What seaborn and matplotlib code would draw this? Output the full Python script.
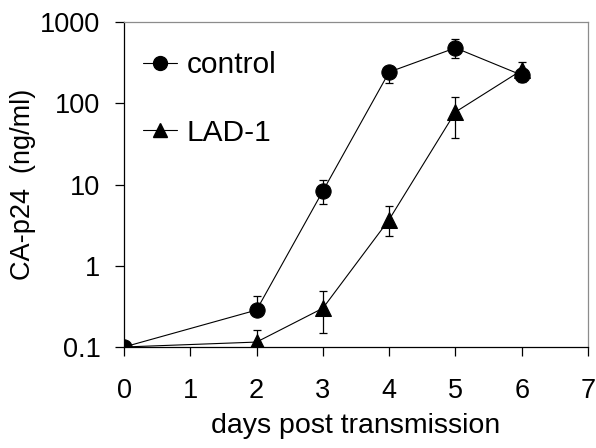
import matplotlib
matplotlib.use("Agg")
import matplotlib.pyplot as plt
import seaborn as sns
import pandas as pd
import numpy as np
from matplotlib.lines import Line2D

days = [0, 2, 3, 4, 5, 6]
control = [0.1, 0.285, 8.3, 242, 480, 222]
control_lo = [0.1, 0.285, 5.8, 178, 360, 185]
control_hi = [0.1, 0.42, 11.5, 290, 610, 265]
lad1 = [0.1, 0.115, 0.30, 3.7, 78, 255]
lad1_lo = [0.1, 0.1, 0.148, 2.35, 37, 215]
lad1_hi = [0.1, 0.162, 0.49, 5.4, 120, 320]
xticks = [0, 1, 2, 3, 4, 5, 6, 7]
yticks = [0.1, 1, 10, 100, 1000]
ytick_labels = ["0.1", "1", "10", "100", "1000"]

sns.set_style("ticks")
plt.rcParams['font.family'] = ['Liberation Sans', 'DejaVu Sans']
plt.rcParams['text.color'] = 'black'
plt.rcParams['axes.labelcolor'] = 'black'
plt.rcParams['xtick.color'] = 'black'
plt.rcParams['ytick.color'] = 'black'

df = pd.DataFrame({
    "day": days * 2,
    "val": control + lad1,
    "series": ["control"] * len(days) + ["LAD-1"] * len(days),
})

fig = plt.figure(figsize=(5.96, 4.48), dpi=100)
ax = fig.add_axes([124/596, 1 - 347/448, (588-124)/596, (347-22)/448])

sns.lineplot(data=df, x="day", y="val", hue="series", style="series",
             markers={"control": "o", "LAD-1": "^"}, dashes=False,
             palette={"control": "black", "LAD-1": "black"},
             markersize=11, linewidth=0.8, markeredgecolor="black", ax=ax,
             legend=False, zorder=3)

for y, lo, hi in [(control, control_lo, control_hi), (lad1, lad1_lo, lad1_hi)]:
    y = np.array(y); lo = np.array(lo); hi = np.array(hi)
    ax.errorbar(days, y, yerr=[y - lo, hi - y], fmt="none", ecolor="black",
                elinewidth=0.9, capsize=3, capthick=0.9, zorder=2)

ax.set_yscale("log")
ax.set_ylim(0.1, 1000)
ax.set_xlim(0, 7)
ax.set_yticks(yticks)
ax.set_yticklabels(ytick_labels)
ax.yaxis.set_minor_locator(matplotlib.ticker.NullLocator())
ax.set_xticks(xticks)
ax.tick_params(axis="both", labelsize=19.5, direction="out", length=6.5, width=0.9,
               color="black", labelcolor="black")
ax.tick_params(axis="x", pad=16)
ax.tick_params(axis="y", pad=10.5)
ax.set_xlabel("days post transmission", fontsize=20.5, labelpad=6, color="black")
ax.set_ylabel("CA-p24  (ng/ml)", fontsize=19.5, labelpad=3, color="black")

for s in ["left", "bottom"]:
    ax.spines[s].set_color("black")
    ax.spines[s].set_linewidth(0.9)
for s in ["top", "right"]:
    ax.spines[s].set_visible(True)
    ax.spines[s].set_color("#8c8c8c")
    ax.spines[s].set_linewidth(0.9)

handles = [Line2D([], [], color="black", marker="o", markersize=10, linewidth=0.8),
           Line2D([], [], color="black", marker="^", markersize=10, linewidth=0.8)]
ax.legend(handles, ["control", "LAD-1"], loc="upper left", frameon=False,
          fontsize=21.5, handlelength=1.14, handletextpad=0.33, labelspacing=1.32,
          bbox_to_anchor=(0.041, 0.91), borderaxespad=0, borderpad=0, labelcolor="black")

fig.savefig("out.png", dpi=100)
